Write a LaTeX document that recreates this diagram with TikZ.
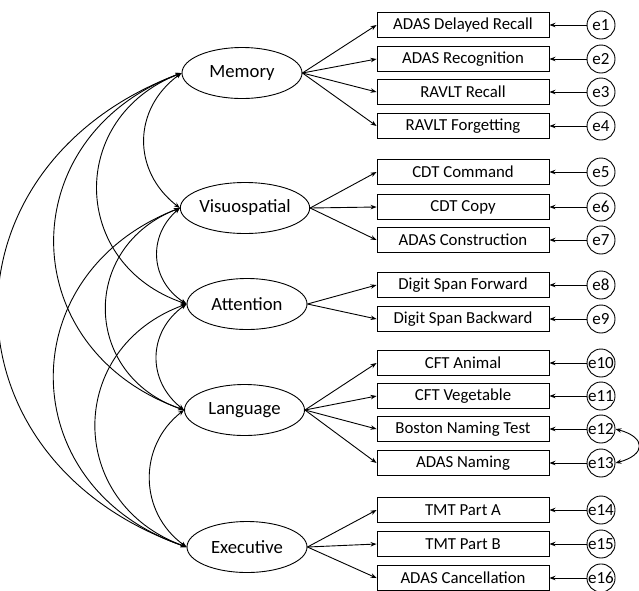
\documentclass[tikz,border=0pt]{standalone}
\usepackage{fontspec}
\setmainfont{Carlito}
\usetikzlibrary{shapes.geometric,arrows.meta}

\begin{document}
\begin{tikzpicture}[>={Stealth[length=6pt,width=4.5pt]},x=1pt,y=1pt,line width=0.9pt,
  factor/.style={draw,ellipse,inner sep=0pt,minimum width=120pt,minimum height=51pt,font=\fontsize{18.7}{22}\selectfont},
  indic/.style={draw,rectangle,inner sep=0pt,minimum width=172pt,minimum height=25pt,font=\fontsize{16.8}{20}\selectfont},
  err/.style={draw,circle,inner sep=0pt,minimum size=28pt,font=\fontsize{17}{20}\selectfont}]
  \useasboundingbox (0,0) rectangle (639,-590);
  \foreach \f/\x/\y in {Memory/242/73, Visuospatial/245/208, Attention/247/304,
    Language/244.5/410, Executive/247/547}
    \node[factor] (\f) at (\x,-\y) {\f};
  \foreach \n/\y/\f/\lbl in
  {
    1/25/Memory/ADAS Delayed Recall,
    2/59/Memory/ADAS Recognition,
    3/92/Memory/RAVLT Recall,
    4/126/Memory/RAVLT Forgetting,
    5/172/Visuospatial/CDT Command,
    6/207/Visuospatial/CDT Copy,
    7/240/Visuospatial/ADAS Construction,
    8/285/Attention/Digit Span Forward,
    9/319/Attention/Digit Span Backward,
    10/363/Language/CFT Animal,
    11/396/Language/CFT Vegetable,
    12/429/Language/Boston Naming Test,
    13/463/Language/ADAS Naming,
    14/510/Executive/TMT Part A,
    15/544/Executive/TMT Part B,
    16/578/Executive/ADAS Cancellation%
  }
  {
    \node[indic] (x\n) at (463,-\y) {\lbl};
    \node[err] (e\n) at (601,-\y) {e\n};
    \draw[->] (\f.east) -- (x\n.west);
    \draw[->] (e\n) -- (x\n);
  }
  \foreach \a/\b/\ang/\lo in
  {
    Memory/Visuospatial/53/1.15,
    Visuospatial/Attention/53/1.15,
    Attention/Language/53/1.15,
    Language/Executive/53/1.1,
    Memory/Attention/70/1.36,
    Visuospatial/Language/70/1.36,
    Attention/Executive/70/1.36,
    Memory/Language/70/1.38,
    Visuospatial/Executive/70/1.38,
    Memory/Executive/70/1.42%
  }
    \draw[<->] (\a.west) to[bend right=\ang,looseness=\lo] (\b.west);
  \draw[<->] (e12.east) to[out=-15,in=15,looseness=2.4] (e13.east);
\end{tikzpicture}
\end{document}
